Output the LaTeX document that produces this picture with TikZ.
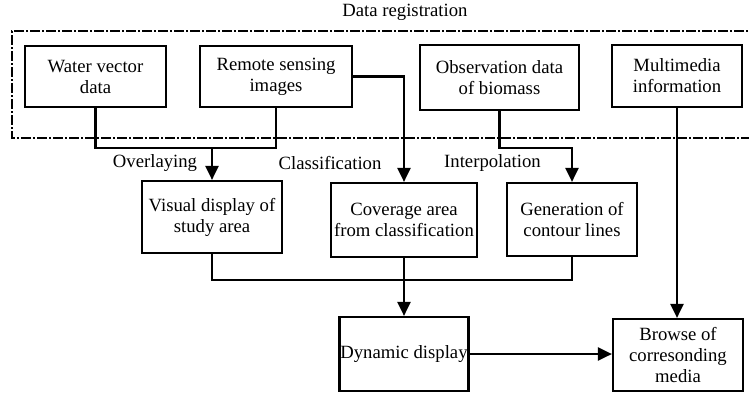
\documentclass[tikz,border=0pt]{standalone}
\usepackage{fontspec}
\setmainfont{Liberation Serif}
\usetikzlibrary{arrows.meta}
\begin{document}
\begin{tikzpicture}[x=1pt,y=-1pt,
  box/.style={draw,line width=2.2pt,align=center,inner sep=0pt,font=\fontsize{18.7}{21}\selectfont},
  lbl/.style={font=\fontsize{18.7}{21}\selectfont,inner sep=0pt},
  conn/.style={line width=2.2pt},
  arr/.style={line width=2.2pt,-{Triangle[width=13pt,length=14pt]}},
  regbox/.style={line width=2.2pt,dash pattern=on 10pt off 2pt on 2pt off 2pt}]
\useasboundingbox (0,0) rectangle (749,392);
% data registration region
\draw[regbox] (760,31) -- (12,31) -- (12,138) -- (760,138);
\node[lbl] (title) at (405,12) {Data registration};
% boxes
\node[box,minimum width=141pt,minimum height=61pt] (wvd) at (95.5,76.5) {Water vector\\data};
\node[box,minimum width=152pt,minimum height=61pt] (rsi) at (276,76.5) {Remote sensing\\images};
\node[box,minimum width=159pt,minimum height=65pt] (obs) at (499.5,77.5) {Observation data\\of biomass};
\node[box,minimum width=130pt,minimum height=62pt] (mm) at (677,76) {Multimedia\\information};
\node[box,minimum width=140pt,minimum height=72pt] (vis) at (212,217) {Visual display of\\study area};
\node[box,minimum width=146pt,minimum height=74pt] (cov) at (404,220) {Coverage area\\from classification};
\node[box,minimum width=130pt,minimum height=73pt] (gen) at (572,219.5) {Generation of\\contour lines};
\node[box,minimum width=129pt,minimum height=74pt] (dyn) at (404,354) {Dynamic display};
\node[box,minimum width=130pt,minimum height=72pt] (brw) at (678,355) {Browse of\\corresonding\\media};
% labels
\node[lbl] (l1) at (155,163) {Overlaying};
\node[lbl] (l2) at (330,163) {Classification};
\node[lbl] (l3) at (492.5,163) {Interpolation};
% junction coordinates
\coordinate (j1) at (212,148);
\coordinate (j2) at (404,280);
% connectors
\draw[conn] (wvd.south) -- (wvd.south |- j1) -- (rsi.south |- j1) -- (rsi.south);
\draw[arr] (j1) -- (vis.north);
\draw[arr] (rsi.east) -| (cov.north);
\draw[arr] (obs.south) |- (499.5,148) -| (gen.north);
\draw[arr] (mm.south) -- (mm.south |- brw.north);
\draw[conn] (vis.south) |- (j2) -| (gen.south);
\draw[conn] (cov.south) -- (j2);
\draw[arr] (j2) -- (dyn.north);
\draw[arr] (dyn.east) -- (dyn.east -| brw.west);
\end{tikzpicture}
\end{document}
